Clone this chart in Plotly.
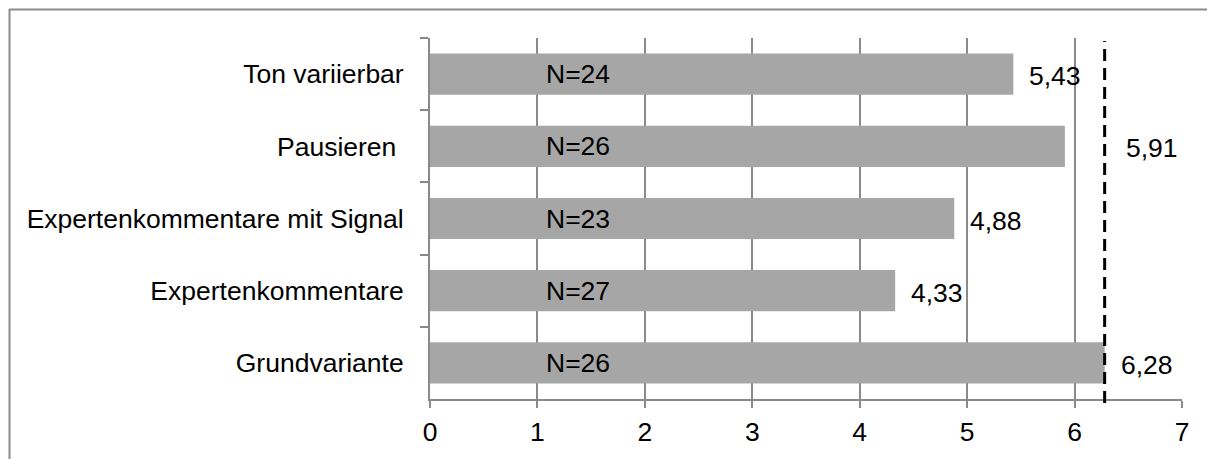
import plotly.graph_objects as go

categories = ["Ton variierbar", "Pausieren ", "Expertenkommentare mit Signal", "Expertenkommentare", "Grundvariante"]
values = [5.43, 5.91, 4.88, 4.33, 6.28]
n_labels = ["N=24", "N=26", "N=23", "N=27", "N=26"]
value_labels = ["5,43", "5,91", "4,88", "4,33", "6,28"]
reference_value = 6.28
x_ticks = [0, 1, 2, 3, 4, 5, 6, 7]

FONT = "Liberation Sans, Arial, sans-serif"
GRID = "#8a8a8a"
FS = 26.5

fig = go.Figure()
fig.add_trace(go.Bar(
    x=values, y=categories, orientation="h",
    marker=dict(color="#A6A6A6", line=dict(width=0)),
    hoverinfo="skip",
))

annotations = []
for cat, v, n, lab in zip(categories, values, n_labels, value_labels):
    annotations.append(dict(x=1.38, y=cat, xref="x", yref="y", text=n, showarrow=False,
                            xanchor="center", yanchor="middle",
                            font=dict(family=FONT, size=FS, color="#000")))
    shift = 59 if lab == "5,91" else 14
    annotations.append(dict(x=v, y=cat, xref="x", yref="y", text=lab, showarrow=False,
                            xanchor="left", yanchor="middle", xshift=shift, yshift=-2,
                            font=dict(family=FONT, size=FS, color="#000")))

W, H = 1215, 459
ML, MR, MT, MB = 422, 41, 30, 68
pw, ph = W - ML - MR, H - MT - MB
fx = lambda px: (px - ML) / pw
fy = lambda py: (H - MB - py) / ph

shapes = [
    dict(type="line", xref="x", yref="paper", x0=reference_value, x1=reference_value,
         y0=fy(395), y1=fy(33), line=dict(color="#000", width=3, dash="12px,7px")),
    # outer frame (top and left edges visible)
    dict(type="line", xref="paper", yref="paper", x0=fx(1), x1=fx(W + 10), y0=fy(1.5), y1=fy(1.5),
         line=dict(color="#8c8c8c", width=2)),
    dict(type="line", xref="paper", yref="paper", x0=fx(1.5), x1=fx(1.5), y0=fy(H + 10), y1=fy(1),
         line=dict(color="#8c8c8c", width=2)),
]

fig.update_layout(
    width=W, height=H,
    margin=dict(l=ML, r=MR, t=MT, b=MB),
    paper_bgcolor="white", plot_bgcolor="white",
    showlegend=False,
    bargap=0.43,
    font=dict(family=FONT, size=FS, color="#000"),
    annotations=annotations,
    shapes=shapes,
    xaxis=dict(range=[0, 7], tickvals=x_ticks, ticktext=[str(t) for t in x_ticks],
               showgrid=True, gridcolor=GRID, gridwidth=1.5,
               showline=True, linecolor=GRID, linewidth=2,
               ticks="outside", ticklen=7, tickcolor=GRID, tickwidth=1.5,
               ticklabelstandoff=1, zeroline=False,
               tickfont=dict(family=FONT, size=FS, color="#000")),
    yaxis=dict(autorange="reversed", showgrid=False,
               showline=True, linecolor=GRID, linewidth=2,
               ticks="outside", ticklen=8, tickcolor=GRID, tickwidth=1.5,
               tickson="boundaries", ticklabelstandoff=19,
               tickfont=dict(family=FONT, size=FS, color="#000")),
)

fig.write_html("out.html")
